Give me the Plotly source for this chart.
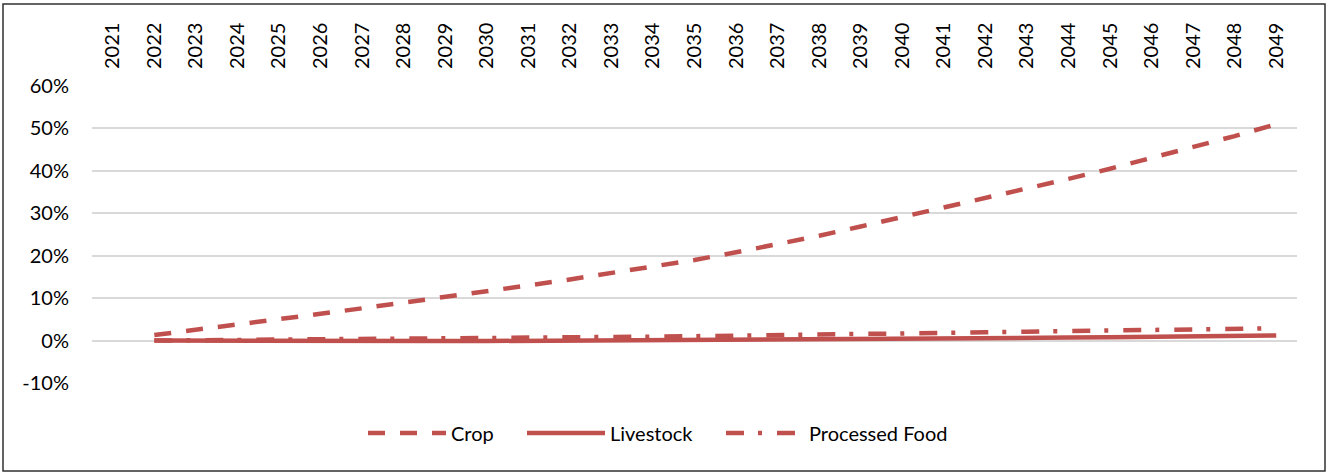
import plotly.graph_objects as go

years = list(range(2021, 2050))
data_years = list(range(2022, 2050))

crop = [1.3, 2.5, 3.8, 5.1, 6.3, 7.6, 8.9, 10.2, 11.6, 13.0, 14.4, 15.9, 17.4, 19.0,
        20.8, 22.7, 24.7, 26.9, 29.1, 31.3, 33.5, 35.8, 38.1, 40.5, 43.0, 45.5, 48.2, 51.0]
livestock = [0.0, -0.05, -0.1, -0.1, -0.1, -0.1, -0.1, -0.1, -0.1, -0.05, -0.05, 0.0, 0.0, 0.0,
             0.05, 0.1, 0.15, 0.2, 0.3, 0.4, 0.5, 0.6, 0.7, 0.8, 0.9, 1.0, 1.1, 1.2]
processed = [0.0, 0.1, 0.15, 0.2, 0.3, 0.35, 0.45, 0.5, 0.6, 0.7, 0.75, 0.85, 0.9, 1.0,
             1.1, 1.25, 1.4, 1.55, 1.7, 1.85, 1.95, 2.1, 2.25, 2.4, 2.5, 2.65, 2.8, 2.9]

y_ticks = [-10, 0, 10, 20, 30, 40, 50, 60]

RED = "#C0504D"
FONT = "Lato"

W, H = 1328, 473
L, R, T, B = 92, 31, 86, 90
pw, ph = W - L - R, H - T - B

fig = go.Figure()
fig.add_trace(go.Scatter(x=data_years, y=crop, name="Crop", mode="lines", legend="legend",
                         line=dict(color=RED, width=4.5, dash="17px,15px")))
fig.add_trace(go.Scatter(x=data_years, y=livestock, name="Livestock", mode="lines", legend="legend2",
                         line=dict(color=RED, width=4.5)))
fig.add_trace(go.Scatter(x=data_years, y=processed, name="Processed Food", mode="lines", legend="legend3",
                         line=dict(color=RED, width=4.5, dash="18px,14px,4px,15px")))

# outer chart border
bx0, bx1, by_top, by_bot = 3, 1325, 4, 471
fig.add_shape(type="rect", xref="paper", yref="paper",
              x0=(bx0 - L) / pw, x1=(bx1 - L) / pw,
              y0=(H - B - by_bot) / ph, y1=(H - B - by_top) / ph,
              line=dict(color="#303030", width=1.5), fillcolor="rgba(0,0,0,0)",
              layer="below")

legend_y = -(433 - (H - B)) / ph


def leg(px):
    return dict(orientation="h", x=(px - L) / pw, xanchor="left", y=legend_y, yanchor="middle",
                font=dict(family=FONT, size=20, color="#000000"), itemwidth=78,
                bgcolor="rgba(0,0,0,0)", borderwidth=0)


fig.update_layout(
    width=W, height=H,
    margin=dict(l=L, r=R, t=T, b=B),
    paper_bgcolor="white", plot_bgcolor="white",
    font=dict(family=FONT, size=20, color="#000000"),
    showlegend=True,
    legend=leg(363), legend2=leg(522), legend3=leg(721),
    xaxis=dict(side="top", tickmode="array", tickvals=years, ticktext=[str(y) for y in years],
               range=[2020.5, 2049.5], tickangle=-90, showgrid=False, zeroline=False,
               showline=False, ticks="", ticklabelstandoff=16,
               tickfont=dict(family=FONT, size=20, color="#000000")),
    yaxis=dict(range=[-10, 60], tickmode="array", tickvals=y_ticks,
               ticktext=[f"{v}%" for v in y_ticks], showgrid=True, gridcolor="#D9D9D9",
               gridwidth=1.5, zeroline=False, showline=False, ticks="",
               ticklabelstandoff=22, tickfont=dict(family=FONT, size=20, color="#000000")),
)

fig.write_html("out.html", config={"displayModeBar": False},
               post_script="document.body.style.margin='0px';document.body.style.overflow='hidden';")
